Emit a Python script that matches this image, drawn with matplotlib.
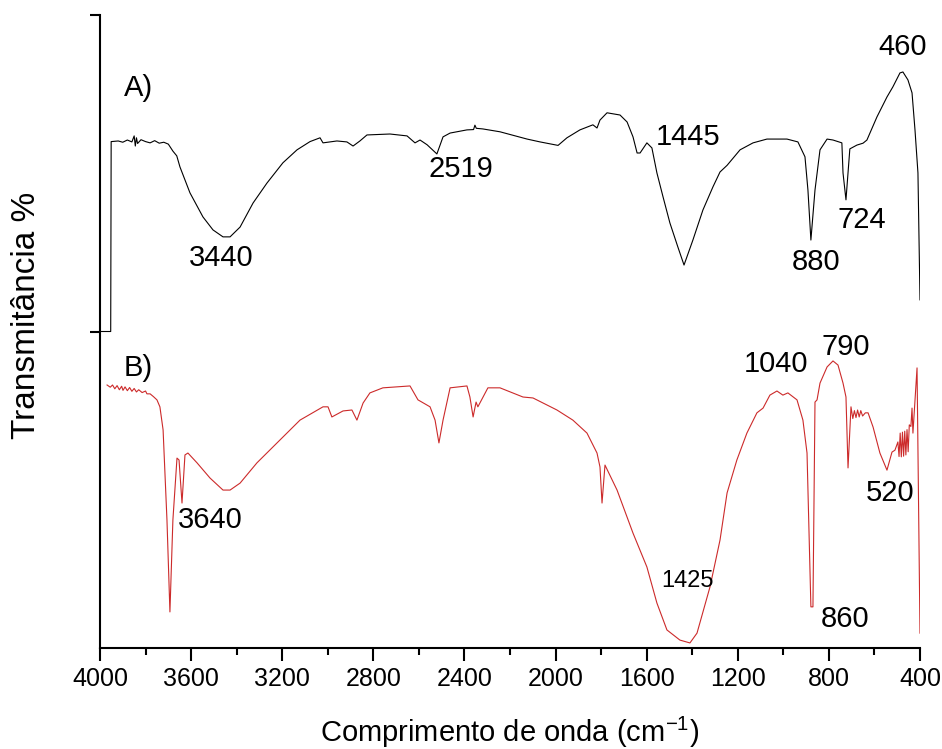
import matplotlib
matplotlib.use('Agg')
import matplotlib.pyplot as plt

# FTIR spectra: wavenumber (cm-1) and stacked transmittance
# (arbitrary units, curve A is shifted up by about 100)
a_wn = [4000, 3953, 3951, 3920, 3900, 3880, 3860, 3850, 3845, 3840, 3835, 3820,
        3800, 3780, 3760, 3740, 3720, 3700, 3680, 3663, 3649, 3605, 3548, 3504,
        3460, 3429, 3385, 3328, 3267, 3197, 3135, 3078, 3034, 3021, 2960, 2916,
        2889, 2859, 2828, 2727, 2652, 2617, 2595, 2564, 2521, 2494, 2463, 2389,
        2360, 2354, 2348, 2319, 2244, 2125, 2068, 1989, 1950, 1893, 1836, 1818,
        1805, 1774, 1717, 1686, 1660, 1642, 1629, 1599, 1577, 1555, 1528, 1498,
        1463, 1436, 1397, 1353, 1309, 1278, 1247, 1190, 1133, 1072, 984, 936,
        905, 892, 879, 861, 839, 808, 782, 743, 738, 725, 708, 677, 650, 633,
        589, 545, 519, 488, 475, 453, 435, 422, 409, 400]
a_t = [100.0, 100.0, 160.0, 160.2, 159.8, 160.5, 159.9, 161.8, 158.6, 161.2, 159.4, 160.6,
       160.0, 159.6, 160.3, 159.5, 159.8, 159.2, 157.0, 155.5, 152.0, 143.8, 136.2, 132.1,
       129.9, 129.9, 133.0, 140.6, 146.9, 153.3, 157.4, 160.0, 161.2, 159.6, 160.2, 159.9,
       158.6, 160.2, 162.1, 162.4, 161.8, 159.6, 160.5, 159.0, 156.1, 161.5, 162.7, 163.7,
       163.8, 165.2, 164.2, 164.0, 163.1, 160.8, 159.9, 158.8, 161.2, 163.7, 165.3, 164.3,
       166.8, 169.1, 168.4, 166.2, 161.5, 156.4, 156.4, 159.6, 158.0, 150.1, 142.5, 134.3,
       126.7, 121.0, 128.9, 138.4, 145.7, 150.4, 152.5, 157.4, 159.6, 160.8, 160.8, 159.9,
       155.2, 144.7, 128.9, 144.7, 157.4, 160.8, 160.5, 159.6, 150.1, 141.6, 157.7, 158.9,
       159.5, 160.5, 167.8, 174.1, 177.3, 181.7, 182.0, 179.5, 175.4, 163.7, 150.1, 110.0]

b_wn = [3969, 3955, 3945, 3935, 3925, 3915, 3905, 3899, 3890, 3880, 3870, 3860,
        3850, 3840, 3830, 3815, 3800, 3794, 3780, 3765, 3750, 3737, 3723, 3706,
        3693, 3680, 3662, 3653, 3640, 3627, 3614, 3574, 3517, 3460, 3429, 3385,
        3311, 3223, 3122, 3021, 2999, 2982, 2933, 2894, 2872, 2845, 2815, 2758,
        2639, 2604, 2551, 2529, 2512, 2494, 2463, 2389, 2376, 2362, 2349, 2341,
        2297, 2244, 2143, 2099, 1994, 1924, 1862, 1818, 1805, 1796, 1783, 1730,
        1660, 1599, 1555, 1511, 1454, 1410, 1379, 1322, 1278, 1247, 1204, 1160,
        1116, 1089, 1059, 1028, 1002, 980, 940, 914, 896, 879, 870, 861,
        852, 839, 808, 782, 760, 738, 725, 716, 703, 695, 688, 681,
        674, 667, 660, 652, 640, 628, 606, 576, 545, 523, 510, 497,
        492, 487, 482, 477, 472, 467, 462, 457, 452, 447, 440, 435,
        431, 413, 400]
b_t = [83.1, 82.4, 83.1, 81.9, 82.9, 81.6, 82.7, 81.4, 82.5, 81.3, 82.3, 81.1,
       82.0, 80.9, 81.6, 80.7, 81.2, 80.3, 80.3, 79.4, 78.4, 76.2, 68.9, 40.4,
       11.4, 40.4, 60.0, 59.4, 45.8, 61.0, 61.6, 58.5, 53.7, 49.9, 49.9, 52.1,
       58.5, 64.8, 72.0, 76.2, 76.2, 73.0, 74.9, 75.2, 72.0, 77.4, 80.6, 82.2,
       82.8, 78.4, 76.2, 72.0, 64.8, 72.0, 82.2, 82.8, 79.3, 73.0, 77.7, 76.2,
       82.2, 82.2, 79.3, 79.0, 75.2, 72.0, 67.9, 61.6, 57.2, 45.8, 57.8, 49.9,
       36.3, 25.6, 14.2, 5.7, 2.5, 1.6, 4.7, 19.3, 34.1, 49.0, 59.4, 67.9,
       74.3, 75.8, 79.9, 81.2, 79.9, 80.6, 78.4, 72.0, 61.6, 13.0, 13.0, 77.7,
       78.4, 83.7, 88.8, 90.7, 89.4, 83.7, 79.3, 56.9, 76.2, 72.5, 75.0, 72.8,
       75.2, 73.0, 75.0, 73.3, 74.3, 74.3, 69.8, 61.6, 56.2, 61.9, 62.5, 65.1,
       60.5, 67.9, 60.4, 68.2, 60.6, 68.5, 61.0, 69.0, 62.0, 70.5, 70.0, 75.8,
       67.9, 88.5, 4.7]

x_ticks = [4000, 3600, 3200, 2800, 2400, 2000, 1600, 1200, 800, 400]

plt.rcParams['font.family'] = ['Liberation Sans', 'DejaVu Sans']
plt.rcParams['mathtext.fontset'] = 'custom'
plt.rcParams['mathtext.rm'] = 'Liberation Sans'
plt.rcParams['mathtext.it'] = 'Liberation Sans:italic'

figure = plt.figure(figsize=(9.42, 7.49), dpi=100)
axes = figure.add_axes([100 / 942, 1 - 648 / 749, 820 / 942, 633 / 749])

axes.plot(a_wn, a_t, color='black', linewidth=0.8)
axes.plot(b_wn, b_t, color='#cc2a2a', linewidth=0.8)

axes.set_xlim(4000, 400)
axes.set_ylim(0, 200)
axes.set_xticks(x_ticks)
axes.set_xticklabels([str(t) for t in x_ticks])
axes.set_xticks([t - 200 for t in x_ticks[:-1]], minor=True)
axes.set_yticks([100, 200])
axes.set_yticklabels([])

for side in ('top', 'right'):
    axes.spines[side].set_visible(False)
for side in ('left', 'bottom'):
    axes.spines[side].set_linewidth(1.5)

axes.tick_params(axis='x', which='major', direction='out', length=9, width=1.5,
                 labelsize=18, pad=5)
axes.tick_params(axis='x', which='minor', direction='out', length=5, width=1.5)
axes.tick_params(axis='y', which='major', direction='out', length=7, width=1.5)

axes.set_xlabel('Comprimento de onda (cm$^{-1}$)', fontsize=21)
axes.xaxis.set_label_coords(0.5, -0.105)
axes.set_ylabel('Transmitância %', fontsize=24, va='center')
axes.yaxis.set_label_coords(-0.090, 0.526)

# peak labels: (text, x, y, size)
annotations = [
    ('A)', 3833, 177.0, 21),
    ('3440', 3469, 123.2, 21),
    ('2519', 2415, 151.4, 21),
    ('1445', 1419, 161.5, 21),
    ('460', 475, 189.9, 21),
    ('880', 857, 122.0, 21),
    ('724', 655, 135.2, 21),
    ('B)', 3833, 88.5, 21),
    ('3640', 3517, 40.4, 21),
    ('1425', 1419, 21.2, 17),
    ('1040', 1032, 89.7, 21),
    ('790', 725, 95.1, 21),
    ('520', 532, 49.0, 21),
    ('860', 729, 9.2, 21),
]
for text, x, y, size in annotations:
    axes.text(x, y, text, fontsize=size, ha='center', va='center')

figure.savefig('out.png', dpi=100)
